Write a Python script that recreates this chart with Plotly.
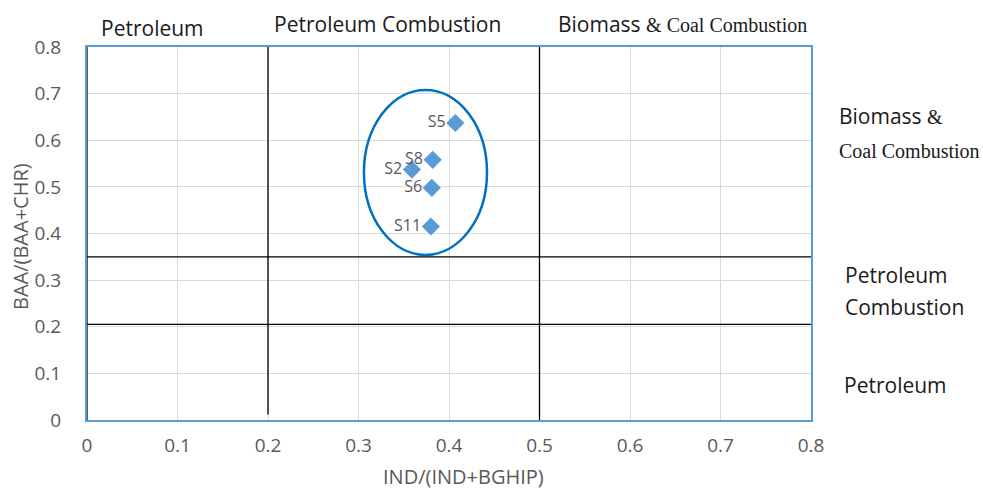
import plotly.graph_objects as go

# Sample diagnostic ratios
samples = ["S5", "S8", "S2", "S6", "S11"]
ind_ratio = [0.407, 0.382, 0.359, 0.381, 0.380]   # IND/(IND+BGHIP)
baa_ratio = [0.637, 0.558, 0.537, 0.498, 0.415]   # BAA/(BAA+CHR)

# Source-boundary thresholds
x_bounds = [0.0, 0.2, 0.5]
y_bounds = [0.35, 0.205]

tick_vals = [0, 0.1, 0.2, 0.3, 0.4, 0.5, 0.6, 0.7, 0.8]
tick_text = ["0", "0.1", "0.2", "0.3", "0.4", "0.5", "0.6", "0.7", "0.8"]

# Cluster ellipse (center and half-axes in data units)
ell_cx, ell_cy = 0.374, 0.531
ell_rx, ell_ry = 0.068, 0.177

BLUE = "#5B9BD5"
GRAY = "#595959"
SANS = "Open Sans, Liberation Sans, sans-serif"
SERIF = "Liberation Serif, DejaVu Serif, serif"

fig = go.Figure()
fig.add_trace(go.Scatter(
    x=ind_ratio, y=baa_ratio, mode="markers+text",
    text=samples, textposition="middle left",
    textfont=dict(family=SANS, size=16, color=GRAY),
    marker=dict(symbol="diamond", size=14, color=BLUE),
    cliponaxis=False, showlegend=False,
))

shapes = []
bottoms = {0.0: 0.0, 0.2: 0.012, 0.5: 0.0}
for xv in x_bounds:
    shapes.append(dict(type="line", xref="x", yref="y", x0=xv, x1=xv,
                       y0=bottoms[xv], y1=0.8, line=dict(color="black", width=1.3),
                       layer="above"))
for yv in y_bounds:
    shapes.append(dict(type="line", xref="x", yref="y", x0=0, x1=0.8,
                       y0=yv, y1=yv, line=dict(color="black", width=1.3),
                       layer="above"))
shapes.append(dict(type="circle", xref="x", yref="y",
                   x0=ell_cx - ell_rx, x1=ell_cx + ell_rx,
                   y0=ell_cy - ell_ry, y1=ell_cy + ell_ry,
                   line=dict(color="#0070C0", width=2.5)))

W, L = 724.0, 87.0
H, T = 373.0, 47.0
def px(xp): return (xp - L) / W
def py(yp): return (T + H - yp) / H

# Region labels
def lab(x, y, text, family=SANS, size=21, anchor="left", color="#1a1a1a", angle=0):
    return dict(xref="paper", yref="paper", x=x, y=y, text=text, showarrow=False,
                xanchor=anchor, yanchor="middle", textangle=angle,
                font=dict(family=family, size=size, color=color))

AMP = "<span style='font-family:Liberation Serif;font-size:20px'>&amp;"
annotations = [
    lab(px(99), py(28), "Petroleum"),
    lab(px(272), py(24), "Petroleum Combustion"),
    lab(px(556), py(24), "Biomass " + AMP + " Coal Combustion</span>"),
    lab(px(837), py(116), "Biomass " + AMP + "</span>"),
    lab(px(837), py(151), "Coal Combustion", family=SERIF, size=20),
    lab(px(843), py(275), "Petroleum"),
    lab(px(843), py(307), "Combustion"),
    lab(px(842), py(385), "Petroleum"),
    # axis titles
    lab(px(463), py(477), "IND/(IND+BGHIP)", size=20, anchor="center", color=GRAY),
    lab(px(20), py(237), "BAA/(BAA+CHR)", size=20, anchor="center", color=GRAY, angle=-90),
]

fig.update_layout(
    width=983, height=492,
    margin=dict(l=87, r=172, t=47, b=72),
    paper_bgcolor="white", plot_bgcolor="white",
    shapes=shapes, annotations=annotations,
    xaxis=dict(range=[0, 0.8], tickvals=tick_vals, ticktext=tick_text,
               showgrid=True, gridcolor="#D9D9D9", gridwidth=1,
               zeroline=False, showline=True, linecolor=BLUE, linewidth=2, mirror=True,
               ticks="", ticklabelstandoff=7, tickfont=dict(family=SANS, size=19, color=GRAY)),
    yaxis=dict(range=[0, 0.8], tickvals=tick_vals, ticktext=tick_text,
               showgrid=True, gridcolor="#D9D9D9", gridwidth=1,
               zeroline=False, showline=True, linecolor=BLUE, linewidth=2, mirror=True,
               ticks="", ticklabelstandoff=20, tickfont=dict(family=SANS, size=19, color=GRAY)),
)

fig.write_html("out.html")
